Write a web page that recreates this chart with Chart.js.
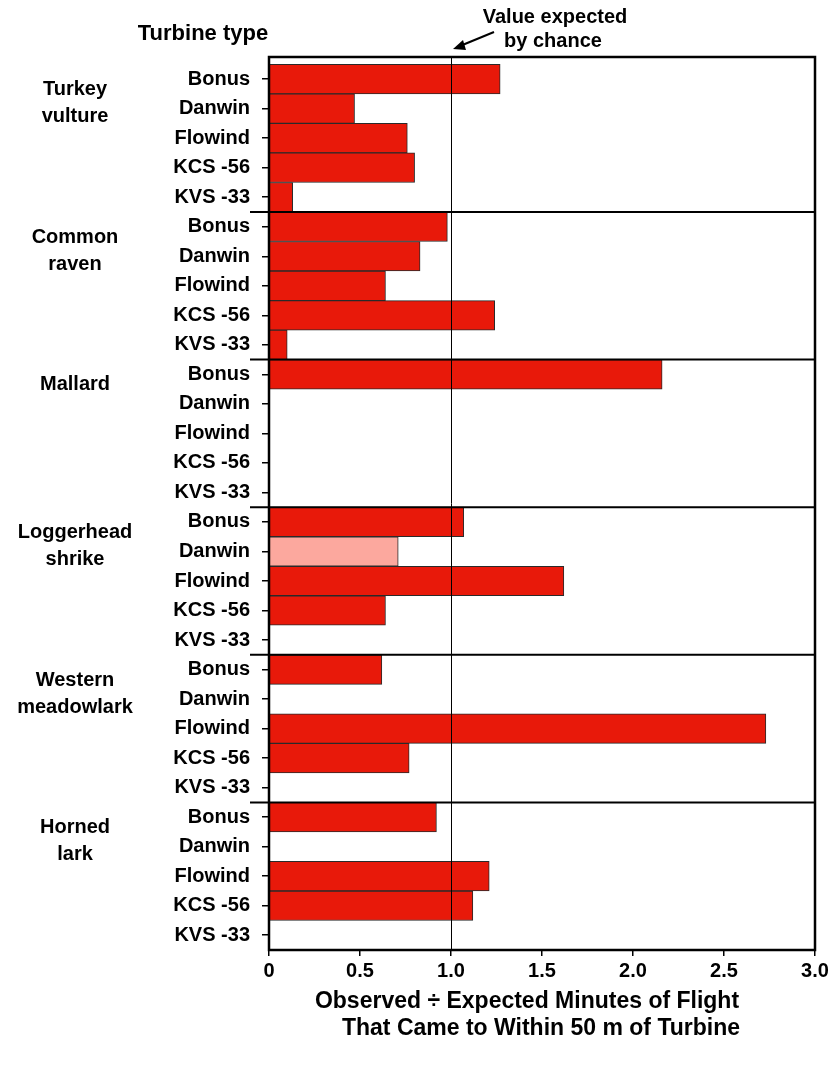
<!DOCTYPE html>
<html>
<head>
<meta charset="utf-8">
<script src="https://cdn.jsdelivr.net/npm/chart.js@4.4.1/dist/chart.umd.min.js"></script>
<style>
  body { margin: 0; background: #fff; }
  #wrap { width: 833px; height: 1067px; }
</style>
</head>
<body>
<div id="wrap"><canvas id="chart" width="833" height="1067"></canvas></div>
<script>
// turbine types repeat inside every species group
const turbines = ["Bonus", "Danwin", "Flowind", "KCS -56", "KVS -33"];
const species = [["Turkey", "vulture"], ["Common", "raven"], ["Mallard"], ["Loggerhead", "shrike"], ["Western", "meadowlark"], ["Horned", "lark"]];

// observed / expected ratio, one value per turbine type (null = no bar)
const turkeyVulture = [1.27, 0.47, 0.76, 0.80, 0.13];
const commonRaven = [0.98, 0.83, 0.64, 1.24, 0.10];
const mallard = [2.16, null, null, null, null];
const loggerheadShrike = [1.07, 0.71, 1.62, 0.64, null];
const westernMeadowlark = [0.62, null, 2.73, 0.77, null];
const hornedLark = [0.92, null, 1.21, 1.12, null];

// the pale bar (Loggerhead shrike / Danwin)
const paleBars = [[3, 1]];

const xTicks = [0, 0.5, 1.0, 1.5, 2.0, 2.5, 3.0];
const xTickLabels = ["0", "0.5", "1.0", "1.5", "2.0", "2.5", "3.0"];
const chanceValue = 1.0;

const groups = [turkeyVulture, commonRaven, mallard, loggerheadShrike, westernMeadowlark, hornedLark];

const RED = "#e8190a";
const PINK = "#fca89e";
const FONT = "'Liberation Sans', Arial, sans-serif";

let rowLabels = [];
let points = [];
let colors = [];
groups.forEach((vals, g) => {
  vals.forEach((v, t) => {
    const row = g * turbines.length + t;
    rowLabels.push(turbines[t]);
    points.push({ x: v, y: row });
    const pale = paleBars.some(p => p[0] === g && p[1] === t);
    colors.push(pale ? PINK : RED);
  });
});

// frame, separators, 1.0 line and the loose texts
const extras = {
  id: "extras",
  afterDatasetsDraw(chart) {
    const ctx = chart.ctx;
    const area = chart.chartArea;
    const xs = chart.scales.x;
    const ys = chart.scales.y;
    ctx.save();

    // value expected by chance
    const cx = Math.round(xs.getPixelForValue(chanceValue)) + 0.5;
    ctx.strokeStyle = "#000";
    ctx.lineWidth = 1;
    ctx.beginPath();
    ctx.moveTo(cx, area.top);
    ctx.lineTo(cx, area.bottom);
    ctx.stroke();

    // group separators
    ctx.lineWidth = 2;
    for (let g = 1; g < species.length; g++) {
      const y = ys.getPixelForValue(g * turbines.length - 0.5);
      ctx.beginPath();
      ctx.moveTo(area.left - 19, y);
      ctx.lineTo(area.right, y);
      ctx.stroke();
    }

    // frame
    ctx.lineWidth = 2.5;
    ctx.strokeRect(area.left, area.top, area.right - area.left, area.bottom - area.top);

    // species names
    ctx.fillStyle = "#000";
    ctx.font = "bold 20px " + FONT;
    ctx.textAlign = "center";
    species.forEach((lines, g) => {
      const y0 = ys.getPixelForValue(g * turbines.length) + 16;
      lines.forEach((txt, i) => ctx.fillText(txt, 75, y0 + i * 27));
    });

    ctx.font = "bold 22px " + FONT;
    ctx.fillText("Turbine type", 203, 40);

    ctx.font = "bold 20px " + FONT;
    ctx.fillText("Value expected", 555, 23);
    ctx.fillText("by chance", 553, 47);

    // arrow
    ctx.lineWidth = 2;
    ctx.beginPath();
    ctx.moveTo(494, 32);
    ctx.lineTo(460, 46);
    ctx.stroke();
    ctx.beginPath();
    ctx.moveTo(453, 49);
    ctx.lineTo(463, 40);
    ctx.lineTo(466, 50);
    ctx.closePath();
    ctx.fill();

    // x axis title
    ctx.font = "bold 23px " + FONT;
    ctx.fillText("Observed \u00f7 Expected Minutes of Flight", 527, 1008);
    ctx.fillText("That Came to Within 50 m of Turbine", 541, 1035);

    ctx.restore();
  }
};

new Chart(document.getElementById("chart"), {
  type: "bar",
  data: {
    datasets: [{
      data: points,
      backgroundColor: colors,
      borderColor: "#2a2a2a",
      borderWidth: 1,
      barPercentage: 1,
      categoryPercentage: 1,
    }]
  },
  options: {
    indexAxis: "y",
    responsive: false,
    animation: false,
    layout: { padding: { top: 57, right: 18, left: 0, bottom: 0 } },
    plugins: { legend: { display: false }, tooltip: { enabled: false } },
    scales: {
      x: {
        type: "linear",
        min: 0,
        max: 3,
        afterBuildTicks: (scale) => { scale.ticks = xTicks.map(v => ({ value: v })); },
        afterFit: (scale) => { scale.height = 117; },
        grid: { drawOnChartArea: false, drawTicks: true, tickLength: 6, color: "#000", lineWidth: 1.5 },
        border: { display: false },
        ticks: {
          color: "#000",
          font: { family: FONT, size: 20, weight: "bold" },
          padding: 3,
          maxRotation: 0,
          callback: (v, i) => xTickLabels[i],
        }
      },
      y: {
        type: "linear",
        reverse: true,
        offset: false,
        min: -0.75,
        max: rowLabels.length - 0.5,
        afterBuildTicks: (scale) => { scale.ticks = rowLabels.map((_, i) => ({ value: i })); },
        afterFit: (scale) => { scale.width = 269; },
        grid: { offset: false, drawOnChartArea: false, drawTicks: true, tickLength: 7, color: "#000", lineWidth: 1.5 },
        border: { display: false },
        ticks: {
          color: "#000",
          font: { family: FONT, size: 20, weight: "bold" },
          padding: 12,
          autoSkip: false,
          callback: (v) => rowLabels[v],
        }
      }
    }
  },
  plugins: [extras]
});
</script>
</body>
</html>
